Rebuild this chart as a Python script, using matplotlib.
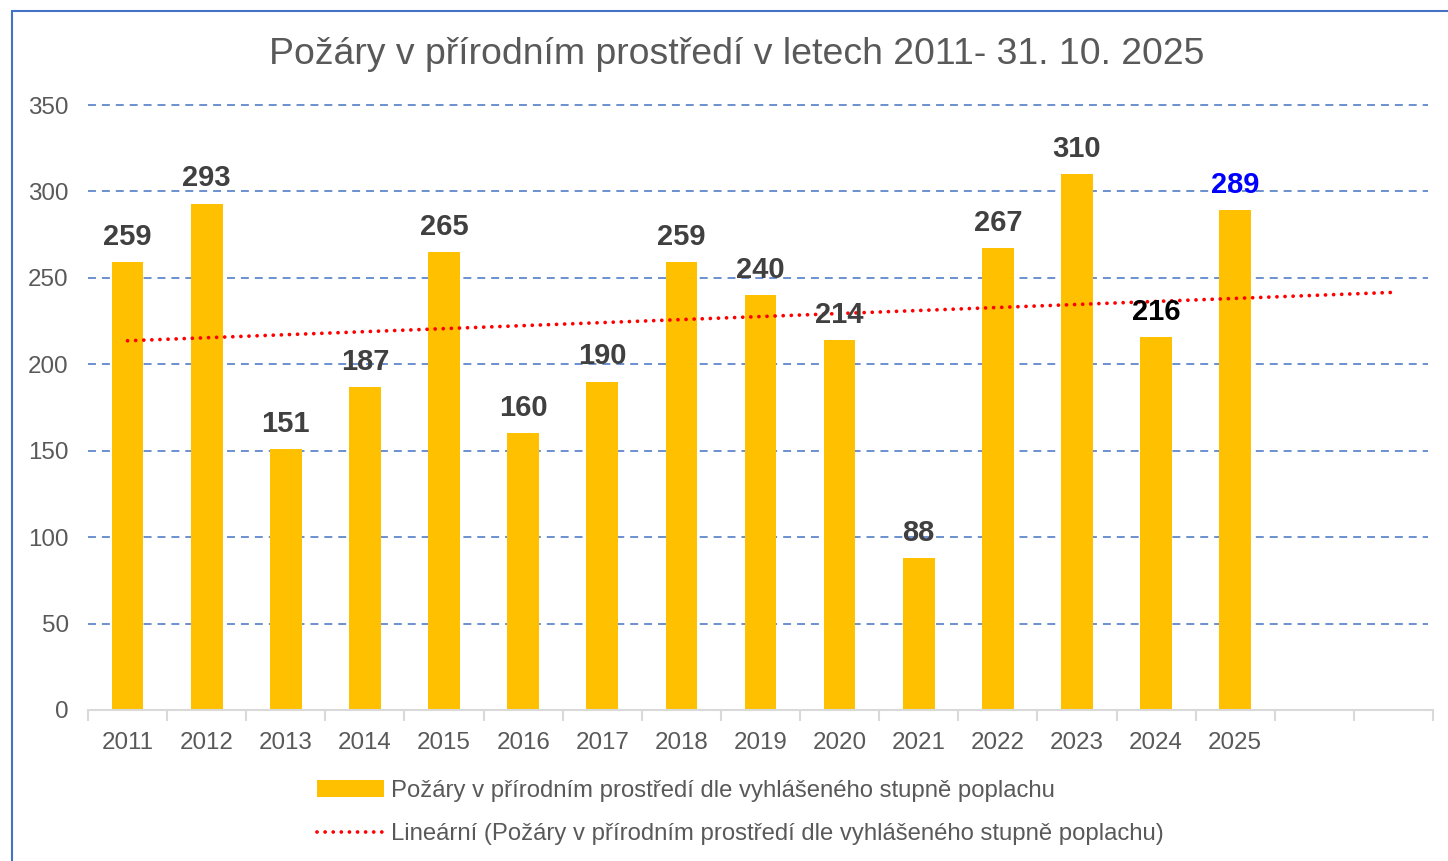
import numpy as np
import matplotlib
matplotlib.use("Agg")
import matplotlib.pyplot as plt
from matplotlib.patches import Rectangle
from matplotlib.ticker import FixedLocator

plt.rcParams['font.family'] = ['Liberation Sans', 'DejaVu Sans']

# ---- data ----
years = ["2011", "2012", "2013", "2014", "2015", "2016", "2017", "2018",
         "2019", "2020", "2021", "2022", "2023", "2024", "2025"]
fires = [259, 293, 151, 187, 265, 160, 190, 259, 240, 214, 88, 267, 310, 216, 289]
forecast_periods = 2
label_colors = ["#404040"] * 13 + ["#000000", "#0000FF"]
title = "Požáry v přírodním prostředí v letech 2011- 31. 10. 2025"
series_name = "Požáry v přírodním prostředí dle vyhlášeného stupně poplachu"
trend_name = "Lineární (Požáry v přírodním prostředí dle vyhlášeného stupně poplachu)"
yticks = [0, 50, 100, 150, 200, 250, 300, 350]

W, H = 1448, 861
fig = plt.figure(figsize=(W / 100, H / 100), dpi=100)
ax = fig.add_axes([88 / W, 1 - 710 / H, (1433 - 88) / W, (710 - 105) / H])

n_slots = len(years) + forecast_periods
x = np.arange(len(years))

# gridlines
for yv in yticks[1:]:
    ax.axhline(yv, xmax=0.996, color="#4472C4", lw=1.1, linestyle=(0, (5.2, 3.9)),
               zorder=0, clip_on=False)

bars = ax.bar(x, fires, width=0.4, color="#FFC000", zorder=2, label=series_name)

# linear trend with forecast
coef = np.polyfit(x + 1, fires, 1)
xt = np.arange(n_slots)
yt = np.polyval(coef, xt + 1)
trend, = ax.plot(xt, yt, color="#FF0000", lw=2.7, linestyle=(0, (0.01, 2.15)),
                 dash_capstyle="round", zorder=3, label=trend_name)

for xi, v, c in zip(x, fires, label_colors):
    ax.annotate(str(v), (xi, v), xytext=(0, 8), textcoords="offset points",
                ha="center", va="bottom", fontsize=21, fontweight="bold",
                color=c, zorder=4)

ax.set_xlim(-0.5, n_slots - 0.5)
ax.set_ylim(0, 350)
ax.set_yticks(yticks)
ax.set_xticks(np.arange(n_slots))
ax.set_xticklabels(years + [""] * forecast_periods)
ax.xaxis.set_minor_locator(FixedLocator(np.arange(n_slots + 1) - 0.5))
ax.tick_params(axis="x", which="major", length=0, pad=15.5, labelsize=17.4, labelcolor="#595959")
ax.tick_params(axis="x", which="minor", length=8, width=1.5, color="#D9D9D9")
ax.tick_params(axis="y", length=0, pad=14, labelsize=17.4, labelcolor="#595959")
for s in ["top", "right", "left"]:
    ax.spines[s].set_visible(False)
ax.spines["bottom"].set_color("#D9D9D9")
ax.spines["bottom"].set_linewidth(1.5)

fig.text(737 / W, 1 - 55 / H, title, ha="center", va="center",
         fontsize=26.9, color="#595959")

fig.legend(handles=[bars, trend], labels=[series_name, trend_name],
           loc="upper left", bbox_to_anchor=(317 / W, 1 - 780 / H),
           frameon=False, fontsize=17.2, labelcolor="#595959",
           handlelength=2.8, handletextpad=0.3, labelspacing=0.88,
           borderpad=0, borderaxespad=0)

# outer frame
fig.patches.append(Rectangle((11.5 / W, -0.1), 2, 1 - 10.5 / H + 0.1,
                             transform=fig.transFigure, fill=False,
                             edgecolor="#4472C4", lw=1.5))

fig.savefig("out.png", dpi=100)
